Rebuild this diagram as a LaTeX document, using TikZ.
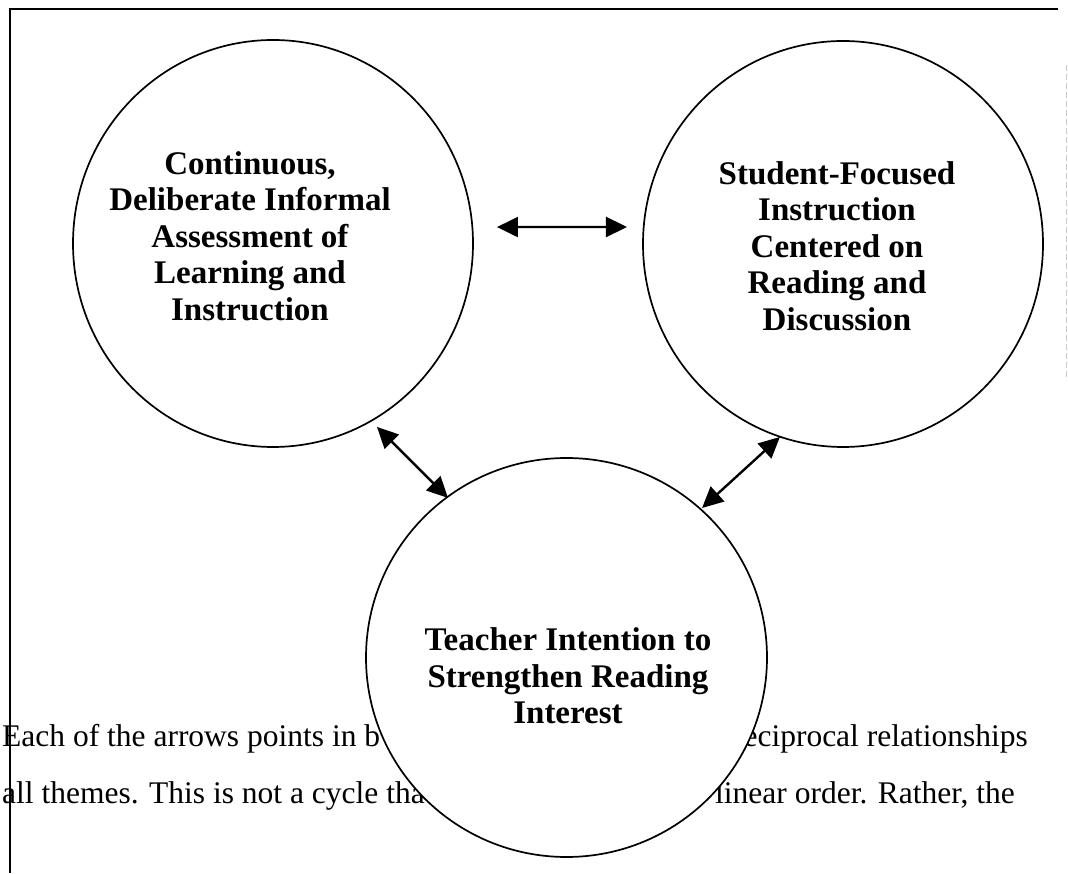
\documentclass[tikz,border=0pt]{standalone}
\usepackage{fontspec}
\setmainfont{Liberation Serif}
\usetikzlibrary{arrows.meta,calc,shapes.geometric}
\tikzset{
  theme/.style={ellipse, draw, fill=white, line width=1.7pt, inner sep=0pt},
  themetext/.style={align=center, font=\bfseries\fontsize{33}{36.5}\selectfont, inner sep=0pt},
  bodytext/.style={font=\fontsize{31.5}{40}\selectfont, inner sep=0pt},
  biarrow/.style={line width=2.4pt, {Triangle[length=21pt,width=20pt]}-{Triangle[length=21pt,width=20pt]}},
  frameline/.style={line width=1.6pt}
}
\begin{document}
\begin{tikzpicture}[x=1pt,y=1pt]
\useasboundingbox (0,0) rectangle (1068,873);
% frame
\coordinate (ftl) at (10,864);
\coordinate (ftr) at (1058,864);
\coordinate (fbl) at (10,0);
\draw[frameline] (ftr) -- (ftl) -- (fbl);
\coordinate (gr1) at (1066,808);
\coordinate (gr2) at (1066,493);
\draw[gray!40, line width=0.8pt, dash pattern=on 6pt off 3pt] (gr1) -- (gr2);
% body text behind the bottom circle
\node[bodytext, anchor=base west] (t1a) at (2,126) {Each of the arrows points in b};
\node[bodytext, anchor=base east] (t1b) at (1028,126) {reciprocal relationships};
\node[bodytext, anchor=base west] (t2a) at (2,70) {all themes. This is not a cycle that};
\node[bodytext, anchor=base east] (t2b) at (1015,70) {ar linear order. Rather, the};
% circles
\node[theme, minimum width=400pt, minimum height=407pt] (L) at (273,629.5) {};
\node[theme, minimum width=400pt, minimum height=406pt] (R) at (843,629) {};
\node[theme, minimum width=401pt, minimum height=399pt] (B) at (566.5,215.5) {};
% circle texts
\node[themetext] (Lt) at (250,637) {Continuous,\\Deliberate Informal\\Assessment of\\Learning and\\Instruction};
\node[themetext] (Rt) at (837,627) {Student-Focused\\Instruction\\Centered on\\Reading and\\Discussion};
\node[themetext] (Bt) at (568,197) {Teacher Intention to\\Strengthen Reading\\Interest};
% arrows
\draw[biarrow] ($(L.center)+(4.2:224.6)$) -- ($(R.center)+(175.5:216.7)$);
\draw[biarrow] ($(L.center)+(-60.45:210.9)$) -- ($(B.center)+(126.6:198.7)$);
\draw[biarrow] ($(R.center)+(-108.1:203)$) -- ($(B.center)+(47.8:201.8)$);
\end{tikzpicture}
\end{document}
